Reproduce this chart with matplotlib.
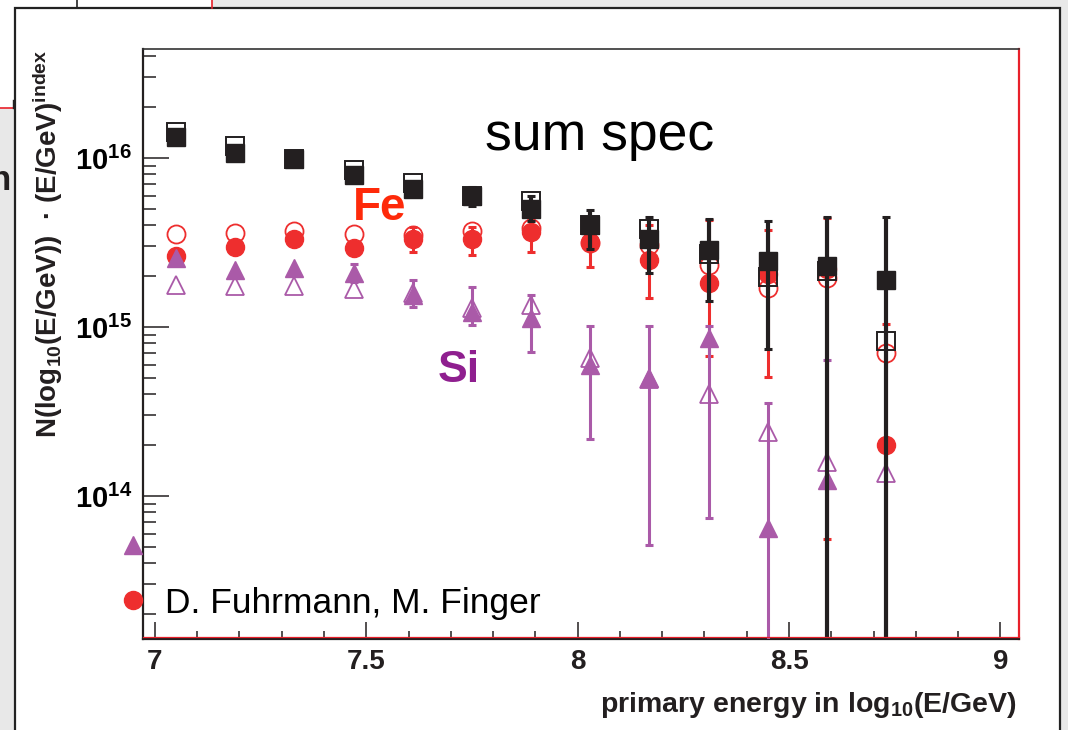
import numpy as np
import matplotlib
matplotlib.use("Agg")
import matplotlib.pyplot as plt
from matplotlib.patches import Rectangle
from matplotlib.lines import Line2D
from matplotlib.ticker import FixedLocator, MultipleLocator, LogLocator, NullFormatter, FuncFormatter, FixedFormatter

plt.rcParams['font.family'] = ['Liberation Sans', 'DejaVu Sans']
plt.rcParams['mathtext.fontset'] = 'custom'
plt.rcParams['mathtext.rm'] = 'Liberation Sans'
plt.rcParams['mathtext.bf'] = 'Liberation Sans:bold'
plt.rcParams['mathtext.it'] = 'Liberation Sans:italic'

# ---------------- data ----------------
log_energy = [7.05, 7.19, 7.33, 7.47, 7.61, 7.75, 7.89, 8.03, 8.17, 8.31, 8.45, 8.59, 8.73]
nan = np.nan

sum_filled = [1.34e16, 1.07e16, 9.9e15, 7.9e15, 6.6e15, 5.95e15, 5.0e15, 4.0e15, 3.3e15, 2.85e15, 2.46e15, 2.29e15, 1.9e15]
sum_filled_lo = [nan, nan, nan, nan, nan, 5.2e15, 4.24e15, 2.89e15, 2.09e15, 1.43e15, 7.4e14, 1e12, 1e12]
sum_filled_hi = [nan, nan, nan, nan, nan, 6.7e15, 6.0e15, 4.92e15, 4.48e15, 4.36e15, 4.24e15, 4.48e15, 4.48e15]
sum_open = [1.42e16, 1.18e16, 9.9e15, 8.5e15, 7.1e15, 5.95e15, 5.6e15, 4.0e15, 3.8e15, 2.7e15, 1.98e15, 2.15e15, 8.3e14]

fe_filled = [2.63e15, 2.97e15, 3.3e15, 2.94e15, 3.3e15, 3.3e15, 3.65e15, 3.2e15, 2.5e15, 1.82e15, 2.07e15, 2.2e15, 2.0e14]
fe_filled_lo = [nan, nan, nan, nan, 2.77e15, 2.67e15, 2.77e15, 2.26e15, 1.48e15, 6.7e14, 5.06e14, 5.6e13, 1e12]
fe_filled_hi = [nan, nan, nan, nan, 3.9e15, 3.9e15, 4.3e15, 4.4e15, 4.0e15, 4.3e15, 3.75e15, 4.4e15, 1.04e15]
fe_open = [3.55e15, 3.6e15, 3.7e15, 3.55e15, 3.5e15, 3.7e15, 3.85e15, 3.15e15, 3.06e15, 2.33e15, 1.7e15, 1.95e15, 7.0e14]

si_filled = [2.56e15, 2.17e15, 2.23e15, 2.09e15, 1.55e15, 1.23e15, 1.13e15, 6.0e14, 5.0e14, 8.6e14, 6.5e13, 1.24e14, nan]
si_filled_lo = [nan, nan, nan, 1.85e15, 1.31e15, 1.03e15, 7.1e14, 2.17e14, 5.1e13, 7.4e13, 1e12, 1e12, nan]
si_filled_hi = [nan, nan, nan, 2.35e15, 1.9e15, 1.73e15, 1.55e15, 1.01e15, 1.01e15, 1.01e15, 3.55e14, 6.4e14, nan]
si_open = [1.77e15, 1.75e15, 1.75e15, 1.68e15, 1.6e15, 1.3e15, 1.35e15, 6.6e14, 4.9e14, 4.0e14, 2.4e14, 1.6e14, 1.37e14]

xtick_vals = [7, 7.5, 8, 8.5, 9]
xtick_labels = ['7', '7.5', '8', '8.5', '9']

BLACK = '#231f20'
RED = '#ee2e2e'
PINK = '#aa5aa8'

# ---------------- figure / slide background ----------------
fig = plt.figure(figsize=(10.68, 7.30), dpi=100)
fig.patch.set_facecolor('#e8e8e8')

bg = fig.add_axes([0, 0, 1, 1], zorder=0)
bg.set_xlim(0, 1068)
bg.set_ylim(730, 0)
bg.axis('off')
bg.add_patch(Rectangle((0, 0), 212, 8, facecolor='white', edgecolor='none'))
bg.add_patch(Rectangle((0, 0), 15, 108, facecolor='white', edgecolor='none'))
bg.add_patch(Rectangle((15, 8), 1045, 740, facecolor='white', edgecolor='#222222', lw=1.6))
bg.plot([77, 77], [0, 8], color='#222222', lw=1.2)
bg.plot([212, 212], [0, 8], color='#e8202a', lw=1.2)
bg.plot([0, 13], [108, 108], color='#e8202a', lw=1.2)
bg.plot([13, 13], [100, 108], color='#222222', lw=1.0)
bg.text(11, 190, 'n', ha='right', va='baseline', fontsize=25, fontweight='bold', color='#231f20')

# ---------------- main axes ----------------
ax = fig.add_axes([143/1068, 1-639/730, 876/1068, 590/730], zorder=1)
ax.set_facecolor('white')
ax.set_yscale('log')
ax.set_xlim(6.972, 9.044)
ax.set_ylim(10**13.154, 10**16.645)

x = np.array(log_energy)


def err_draw(vals, lo, hi, color, lw, z):
    vals = np.array(vals, float)
    lo = np.array(lo, float)
    hi = np.array(hi, float)
    m = np.isfinite(lo) & np.isfinite(hi) & np.isfinite(vals)
    ax.errorbar(x[m], vals[m], yerr=[vals[m]-lo[m], hi[m]-vals[m]], fmt='none',
                ecolor=color, elinewidth=lw, capsize=3, capthick=2.2, zorder=z)


# Fe
ax.plot(x, fe_open, 'o', ms=13, mfc='none', mec=RED, mew=1.3, zorder=3, linestyle='none')
err_draw(fe_filled, fe_filled_lo, fe_filled_hi, RED, 2.2, 3.5)
ax.plot(x, fe_filled, 'o', ms=13, color=RED, mec=RED, zorder=4, linestyle='none')
# Si
ax.plot(x, si_open, '^', ms=13, mfc='none', mec=PINK, mew=1.3, zorder=5, linestyle='none')
err_draw(si_filled, si_filled_lo, si_filled_hi, PINK, 2.2, 5.5)
ax.plot(x, si_filled, '^', ms=13, color=PINK, mec=PINK, zorder=6, linestyle='none')
# sum
ax.plot(x, sum_open, 's', ms=13, mfc='none', mec=BLACK, mew=1.4, zorder=7, linestyle='none')
err_draw(sum_filled, sum_filled_lo, sum_filled_hi, BLACK, 3.0, 7.5)
ax.plot(x, sum_filled, 's', ms=13, color=BLACK, mec=BLACK, zorder=8, linestyle='none')

# spines
for s in ['left', 'bottom']:
    ax.spines[s].set_color(BLACK)
    ax.spines[s].set_linewidth(1.6)
ax.spines['top'].set_color('#333333')
ax.spines['top'].set_linewidth(1.2)
ax.spines['right'].set_color('#e8202a')
ax.spines['right'].set_linewidth(1.6)
ax.plot([0, 1], [0.004, 0.004], transform=ax.transAxes, color='#e8202a', lw=0.9,
        clip_on=False, zorder=20)

# ticks
ax.xaxis.set_major_locator(FixedLocator(xtick_vals))
ax.xaxis.set_major_formatter(FixedFormatter(xtick_labels))
ax.xaxis.set_minor_locator(MultipleLocator(0.1))
ax.yaxis.set_major_locator(LogLocator(base=10, numticks=20))
ax.yaxis.set_minor_locator(LogLocator(base=10, subs=np.arange(2, 10), numticks=50))
ax.yaxis.set_minor_formatter(NullFormatter())
ax.yaxis.set_major_formatter(FuncFormatter(lambda v, p: r'$\mathbf{10^{%d}}$' % int(round(np.log10(v)))))

ax.tick_params(which='both', direction='in', top=False, right=False, color=BLACK, width=1.1)
ax.tick_params(axis='x', which='major', length=12, pad=7, labelsize=20)
ax.tick_params(axis='x', which='minor', length=6)
ax.tick_params(axis='y', which='major', length=19, pad=8, labelsize=21)
ax.tick_params(axis='y', which='minor', length=9.5)
for lab in ax.get_xticklabels():
    lab.set_fontweight('bold')
    lab.set_color(BLACK)

# ---------------- texts ----------------
fig.text(48/1068, 1-50/730, 'N(log$_{\\mathbf{10}}$(E/GeV))  \u00b7 (E/GeV)$^{\\mathbf{index}}$',
         rotation=90, ha='center', va='top', fontsize=20, fontweight='bold', color=BLACK)
fig.text(1017/1068, 1-712/730, 'primary energy in log$_{\\mathbf{10}}$(E/GeV)',
         ha='right', va='baseline', fontsize=20.5, fontweight='bold', color=BLACK)
fig.text(485/1068, 1-150/730, 'sum spec', ha='left', va='baseline', fontsize=38.5, color='black', zorder=10)
fig.text(353/1068, 1-220/730, 'Fe', ha='left', va='baseline', fontsize=33, fontweight='bold', color='#fe2a0a', zorder=10)
fig.text(438/1068, 1-382/730, 'Si', ha='left', va='baseline', fontsize=32, fontweight='bold', color='#8f1f8f', zorder=10)
fig.text(165/1068, 1-613/730, 'D. Fuhrmann, M. Finger', ha='left', va='baseline', fontsize=25.5, color='black', zorder=10)

# legend-like markers on the slide, left of the frame
fig.add_artist(Line2D([133/1068], [1-545/730], marker='^', ms=13, color=PINK, linestyle='none'))
fig.add_artist(Line2D([133/1068], [1-600/730], marker='o', ms=13, color=RED, linestyle='none'))

fig.savefig('out.png', dpi=100, facecolor=fig.get_facecolor())
